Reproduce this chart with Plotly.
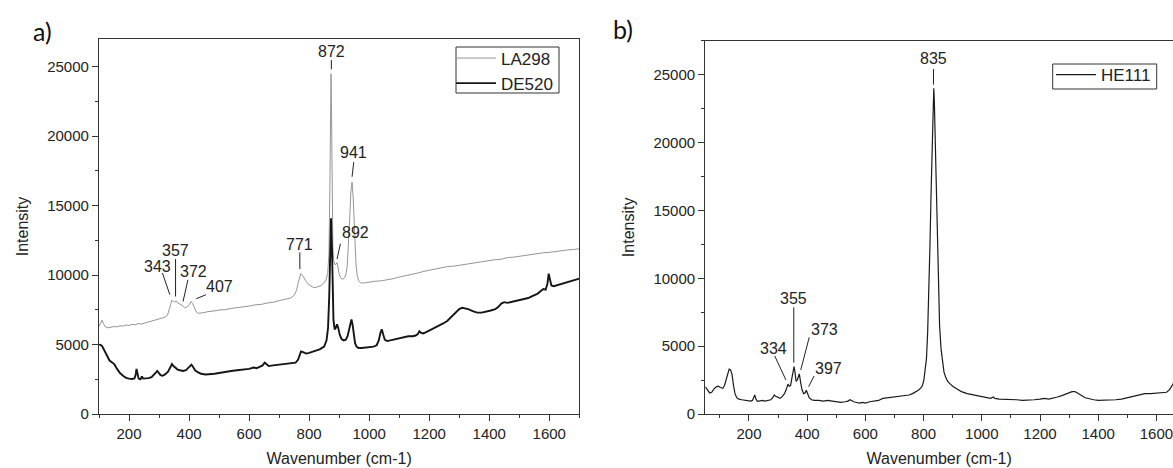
import plotly.graph_objects as go

# ---------------- data ----------------
la298_wn = [100, 106, 110, 115, 120, 130, 140, 150, 160, 170, 180, 190, 200, 210, 220, 230, 240, 250, 260, 270,
            280, 290, 300, 310, 320, 328, 335, 340, 343, 348, 352, 357, 362, 367, 372, 378, 385, 392, 398, 403,
            407, 412, 418, 424, 430, 440, 450, 460, 470, 480, 490, 500, 520, 540, 560, 580, 600, 620, 640, 660,
            680, 700, 720, 740, 750, 758, 763, 768, 772, 777, 782, 790, 800, 810, 820, 830, 840, 850, 857, 862,
            866, 869, 871, 873, 875, 877, 879, 882, 886, 890, 893, 896, 900, 905, 912, 918, 923, 927, 931, 935,
            939, 943, 947, 950, 953, 956, 960, 965, 972, 980, 990, 1000, 1020, 1040, 1060, 1080, 1100, 1120, 1140,
            1160, 1180, 1200, 1220, 1240, 1260, 1280, 1300, 1320, 1340, 1360, 1380, 1400, 1420, 1440, 1460, 1480,
            1500, 1520, 1540, 1560, 1580, 1600, 1620, 1640, 1660, 1680, 1700]
la298_int = [6300, 6600, 6750, 6500, 6300, 6200, 6260, 6300, 6270, 6360, 6320, 6410, 6370, 6460, 6420, 6510, 6470, 6560, 6600, 6660,
             6710, 6810, 6840, 6910, 6980, 7100, 7600, 8000, 8200, 8100, 8050, 8150, 8000, 7950, 7900, 7800, 7650, 7700, 7800, 8000,
             8100, 7950, 7600, 7350, 7250, 7260, 7300, 7360, 7370, 7410, 7440, 7490, 7510, 7600, 7640, 7710, 7770, 7860, 7890, 7990,
             8040, 8160, 8240, 8360, 8550, 8900, 9400, 9900, 10100, 10000, 9800, 9550, 9300, 9150, 9100, 9150, 9250, 9450, 9700, 10200,
             11500, 16000, 21500, 24500, 21000, 15000, 12000, 11000, 10750, 10800, 10900, 10600, 10100, 9800, 9700, 9800, 10100, 10700, 12000, 14000,
             16000, 16700, 15500, 14000, 12000, 10800, 10000, 9600, 9450, 9420, 9460, 9500, 9560, 9590, 9660, 9740, 9860, 9940, 10060,
             10140, 10260, 10340, 10460, 10540, 10610, 10640, 10710, 10740, 10860, 10890, 10960, 11040, 11110, 11140, 11260, 11290,
             11360, 11390, 11460, 11540, 11610, 11640, 11710, 11740, 11810, 11840, 11900]

de520_wn = [100, 105, 110, 115, 120, 128, 135, 145, 152, 160, 170, 180, 190, 200, 210, 218, 222, 225, 228, 232,
            238, 243, 247, 255, 265, 275, 283, 290, 294, 298, 305, 312, 320, 330, 337, 343, 348, 355, 362, 370,
            380, 390, 398, 403, 408, 413, 420, 430, 440, 455, 470, 485, 500, 520, 540, 560, 580, 600, 615, 625,
            635, 645, 652, 658, 665, 680, 700, 720, 740, 755, 763, 768, 773, 780, 790, 800, 810, 820, 835, 850,
            858, 863, 867, 870, 873, 876, 878, 881, 885, 889, 893, 897, 902, 908, 915, 922, 928, 933, 937, 941,
            945, 949, 953, 958, 965, 975, 990, 1005, 1015, 1025, 1032, 1037, 1042, 1047, 1052, 1060, 1070, 1085, 1100,
            1115, 1130, 1145, 1155, 1162, 1167, 1172, 1180, 1190, 1200, 1215, 1230, 1245, 1260, 1275, 1290, 1300, 1310,
            1320, 1330, 1345, 1360, 1375, 1390, 1405, 1420, 1430, 1440, 1450, 1460, 1470, 1480, 1490, 1500, 1515, 1530,
            1545, 1560, 1572, 1580, 1588, 1594, 1598, 1602, 1607, 1615, 1630, 1650, 1670, 1685, 1700]
de520_int = [5000, 4980, 4900, 4700, 4450, 4100, 3850, 3700, 3550, 3250, 2950, 2750, 2600, 2550, 2520, 2560, 2800, 3250, 2800, 2550,
             2500, 2700, 2550, 2550, 2580, 2650, 2800, 3000, 3100, 3000, 2800, 2750, 2850, 3050, 3300, 3600, 3450, 3300, 3200, 3150,
             3100, 3150, 3300, 3450, 3550, 3400, 3150, 3000, 2900, 2850, 2850, 2900, 2950, 3050, 3100, 3150, 3200, 3250, 3350, 3300,
             3400, 3500, 3700, 3550, 3450, 3500, 3550, 3600, 3650, 3700, 3900, 4250, 4500, 4450, 4350, 4400, 4450, 4550, 4650, 4850,
             5300, 6200, 8500, 12000, 14100, 12000, 9000, 6800, 6100, 6200, 6450, 6200, 5700, 5400, 5300, 5350, 5600, 6000, 6500, 6800,
             6400, 5700, 5100, 4850, 4750, 4750, 4780, 4800, 4850, 4950, 5300, 5800, 6100, 5700, 5350, 5250, 5300, 5350, 5450,
             5500, 5600, 5600, 5650, 5750, 5950, 5850, 5800, 5900, 6000, 6150, 6300, 6500, 6700, 7000, 7300, 7550, 7650,
             7600, 7550, 7400, 7300, 7300, 7350, 7450, 7550, 7700, 7950, 8050, 8000, 8050, 8050, 8150, 8150, 8250, 8350,
             8500, 8650, 8850, 9000, 8950, 9400, 10100, 9700, 9250, 9200, 9300, 9400, 9550, 9650, 9750]

he111_wn = [50, 55, 60, 65, 72, 80, 88, 95, 102, 110, 116, 122, 127, 132, 137, 142, 147, 152, 158, 165,
            175, 185, 195, 205, 212, 217, 220, 223, 228, 235, 245, 255, 265, 275, 282, 287, 292, 300, 307, 315,
            322, 328, 334, 338, 343, 348, 352, 355, 358, 362, 366, 370, 373, 377, 382, 388, 393, 397, 401, 407,
            415, 425, 440, 455, 470, 485, 500, 515, 530, 540, 547, 553, 560, 570, 580, 590, 600, 615, 630, 645,
            660, 675, 690, 705, 720, 735, 750, 762, 772, 782, 790, 796, 801, 806, 810, 814, 818, 822, 826, 830,
            833, 835, 837, 840, 843, 847, 851, 855, 860, 865, 870, 876, 883, 892, 900, 915, 930, 950, 970, 990,
            1010, 1030, 1040, 1045, 1060, 1080, 1100, 1120, 1140, 1160, 1180, 1200, 1215, 1230, 1245, 1260, 1275, 1290,
            1300, 1310, 1320, 1330, 1340, 1355, 1370, 1385, 1400, 1420, 1440, 1460, 1480, 1500, 1520, 1540, 1560, 1580,
            1600, 1620, 1635, 1645, 1652, 1660, 1670, 1685, 1700]
he111_int = [2000, 1850, 1650, 1550, 1600, 1850, 2000, 2050, 1950, 1900, 2100, 2500, 3000, 3300, 3250, 2900, 2100, 1500, 1200, 1100,
             1050, 1000, 950, 950, 1000, 1200, 1400, 1150, 950, 950, 1000, 950, 1000, 1050, 1200, 1400, 1300, 1200, 1150, 1300,
             1500, 1800, 2200, 2050, 2100, 2700, 3200, 3500, 3100, 2400, 2500, 2900, 2950, 2400, 1800, 1500, 1550, 1750, 1500, 1200,
             1050, 1000, 1000, 950, 1000, 950, 900, 850, 900, 950, 1050, 950, 900, 850, 800, 850, 800, 900, 950, 1000,
             1150, 1200, 1250, 1250, 1300, 1350, 1400, 1500, 1600, 1750, 1900, 2100, 2500, 3200, 4100, 6000, 8500, 12500, 16500, 20500,
             23500, 24000, 23000, 20000, 16500, 12500, 8800, 6500, 4800, 3700, 3100, 2700, 2400, 2200, 2050, 1850, 1650, 1500, 1400, 1300,
             1200, 1150, 1250, 1150, 1100, 1100, 1050, 1050, 1000, 1000, 1050, 1100, 1150, 1100, 1150, 1250, 1350, 1500,
             1600, 1650, 1650, 1550, 1400, 1200, 1100, 1050, 1000, 1000, 1000, 1050, 1100, 1200, 1300, 1400, 1500, 1500,
             1550, 1550, 1600, 1800, 2000, 2300, 2700, 3300, 3800]

# peak labels: text, wavenumber / intensity where the leader line ends
a_peak_text = ["343", "357", "372", "407", "771", "872", "892", "941"]
a_peak_wn = [336, 355, 380, 424, 769, 874, 893, 943]
a_peak_int = [8590, 8460, 8100, 8300, 10440, 24820, 11160, 17080]

b_peak_text = ["334", "355", "373", "397", "835"]
b_peak_wn = [327, 354, 378, 405, 834]
b_peak_int = [2510, 3780, 3245, 2013, 24260]

x_tick_step = 200
y_tick_step = 5000

# ---------------- layout geometry (pixels) ----------------
W, H = 1173, 468
ML, MT, MB, MR = 99, 39, 54, 0
PW, PH = W - ML - MR, H - MT - MB


def fx(px):
    return (px - ML) / PW


def fy(py):
    return 1 - (py - MT) / PH


# leader line end offsets (dx, dy up) and text centre offsets (tx, ty up), in px
a_line_off = [(-7.4, 21.7), (0, 37.4), (4.9, 21.7), (9.7, 4), (0, 16.6), (0, 9.3), (3.4, 15.3), (1.7, 14.6)]
a_text_off = [(-12, 28.3), (0.2, 46), (10.5, 30), (23.7, 12.3), (-0.8, 25), (0, 17.3), (18.4, 27), (1.5, 24.6)]
b_line_off = [(-11.2, 24), (0, 55.4), (8.5, 32.7), (5.5, 10.7), (0, 15.7)]
b_text_off = [(-12, 31.7), (0, 64.4), (24, 40.7), (20.3, 18.4), (0, 25.7)]

FONT = "Liberation Sans, Arial, sans-serif"
AX = "#333333"
TXT = "#222222"

fig = go.Figure()
fig.add_trace(go.Scatter(x=la298_wn, y=la298_int, name="LA298", mode="lines",
                         line=dict(color="#959595", width=1), xaxis="x", yaxis="y", legend="legend"))
fig.add_trace(go.Scatter(x=de520_wn, y=de520_int, name="DE520", mode="lines",
                         line=dict(color="#151515", width=1.9), xaxis="x", yaxis="y", legend="legend"))
fig.add_trace(go.Scatter(x=he111_wn, y=he111_int, name="HE111", mode="lines",
                         line=dict(color="#1a1a1a", width=1.2), xaxis="x2", yaxis="y2", legend="legend2"))

common = dict(showline=True, linecolor=AX, linewidth=1.3, ticks="outside", ticklen=6, tickwidth=1.3,
              tickcolor=AX, showgrid=False, zeroline=False, tickfont=dict(family=FONT, size=15, color=TXT),
              title_font=dict(family=FONT, size=16, color=TXT))
xminor = dict(ticks="outside", ticklen=3, tickwidth=1.1, tickcolor=AX, dtick=x_tick_step / 2, showgrid=False)
yminor = dict(ticks="outside", ticklen=3, tickwidth=1.1, tickcolor=AX, dtick=y_tick_step / 2, showgrid=False)

legend_style = dict(xanchor="right", yanchor="top", bgcolor="rgba(0,0,0,0)", borderwidth=0,
                    font=dict(family=FONT, size=17, color=TXT), tracegroupgap=0, itemwidth=40)

fig.update_layout(
    width=W, height=H, margin=dict(l=ML, r=MR, t=MT, b=MB, pad=0),
    paper_bgcolor="white", plot_bgcolor="white", showlegend=True,
    font=dict(family=FONT, color=TXT),
    xaxis=dict(common, domain=[0, fx(579.3)], range=[100, 1700], dtick=x_tick_step, tick0=0, mirror=True,
               minor=xminor, anchor="y", title=dict(text="Wavenumber (cm-1)", standoff=11)),
    yaxis=dict(common, domain=[0, 1], range=[0, 27000], dtick=y_tick_step, tick0=0, mirror=True,
               minor=yminor, tickformat="d", anchor="x", title=dict(text="Intensity", standoff=14)),
    xaxis2=dict(common, domain=[fx(705.3), 1], range=[50, 1657], dtick=x_tick_step, tick0=0, mirror=True,
                minor=xminor, anchor="y2", ticklabeloverflow="allow",
                title=dict(text="Wavenumber (cm-1)", standoff=11)),
    yaxis2=dict(common, domain=[0, fy(40.7)], range=[0, 27500], dtick=y_tick_step, tick0=0, mirror=False,
                minor=yminor, tickformat="d", anchor="x2", title=dict(text="Intensity", standoff=14)),
    legend=dict(legend_style, x=fx(558), y=fy(40.5)),
    legend2=dict(legend_style, x=fx(1156), y=fy(57)),
)

annotations = [
    dict(text="a)", x=fx(42), y=fy(31), xref="paper", yref="paper", showarrow=False,
         xanchor="center", yanchor="middle", font=dict(family="Lato, Open Sans, sans-serif", size=25, color="#111")),
    dict(text="b)", x=fx(623), y=fy(29), xref="paper", yref="paper", showarrow=False,
         xanchor="center", yanchor="middle", font=dict(family="Lato, Open Sans, sans-serif", size=25, color="#111")),
]
# legend frames
shapes = [
    dict(type="rect", xref="paper", yref="paper", x0=fx(456), x1=fx(559), y0=fy(93), y1=fy(47),
         line=dict(color=AX, width=1), fillcolor="white", layer="above"),
    dict(type="rect", xref="paper", yref="paper", x0=fx(1052.7), x1=fx(1156.7), y0=fy(89), y1=fy(64),
         line=dict(color=AX, width=1), fillcolor="white", layer="above"),
]


def add_labels(texts, wns, ints, line_off, text_off, xr, yr):
    for t, w, i, (dx, dy), (tx, ty) in zip(texts, wns, ints, line_off, text_off):
        shapes.append(dict(type="line", xref=xr, yref=yr, xsizemode="pixel", ysizemode="pixel",
                           xanchor=w, yanchor=i, x0=0, y0=0, x1=dx, y1=dy,
                           line=dict(color=TXT, width=1)))
        annotations.append(dict(text=t, x=w, y=i, xref=xr, yref=yr, showarrow=False,
                                xanchor="center", yanchor="middle", xshift=tx, yshift=ty,
                                font=dict(family=FONT, size=16, color=TXT)))


add_labels(a_peak_text, a_peak_wn, a_peak_int, a_line_off, a_text_off, "x", "y")
add_labels(b_peak_text, b_peak_wn, b_peak_int, b_line_off, b_text_off, "x2", "y2")

fig.update_layout(annotations=annotations, shapes=shapes)
fig.write_html("out.html", config={"displayModeBar": False},
               post_script="document.body.style.margin='0';document.body.style.padding='0';")
